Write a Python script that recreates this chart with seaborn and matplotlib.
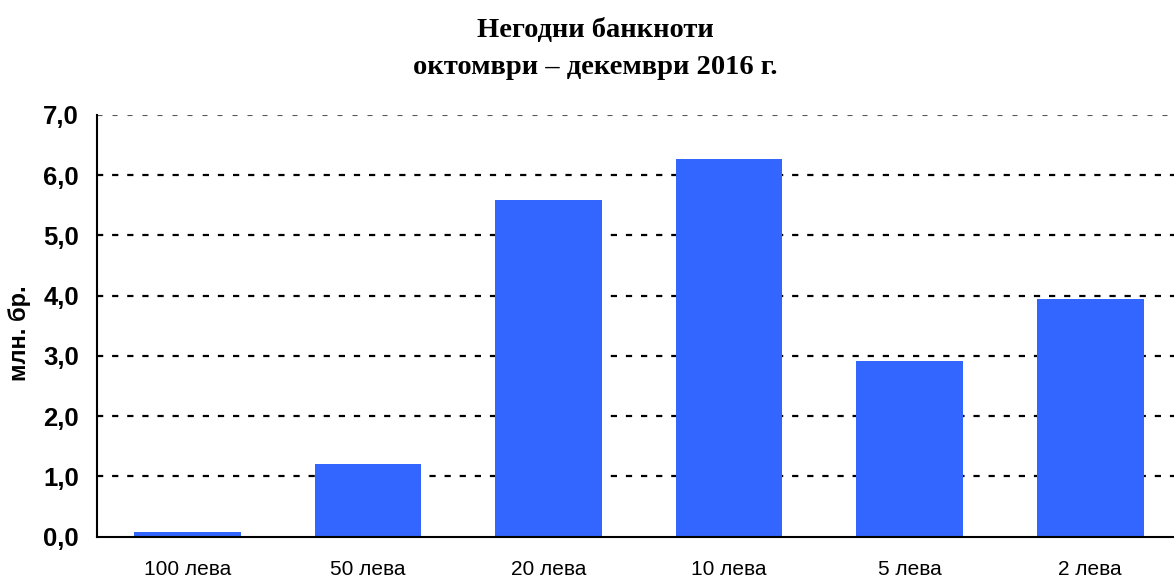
import pandas as pd
import matplotlib
matplotlib.use("Agg")
import matplotlib.pyplot as plt
import seaborn as sns
from matplotlib.ticker import FuncFormatter, FixedLocator

# banknote denominations and unfit notes, mln pieces
denominations = ["100 лева", "50 лева", "20 лева", "10 лева", "5 лева", "2 лева"]
unfit_notes = [0.08, 1.21, 5.59, 6.27, 2.92, 3.95]
title_lines = ["Негодни банкноти", "октомври – декември 2016 г."]
y_label = "млн. бр."

df = pd.DataFrame({"denomination": denominations, "count": unfit_notes})

sns.set_style("white")
plt.rcParams["font.family"] = ["Liberation Sans", "DejaVu Sans"]
plt.rcParams["text.color"] = "black"
plt.rcParams["xtick.color"] = "black"
plt.rcParams["ytick.color"] = "black"

fig = plt.figure(figsize=(11.74, 5.78), dpi=100)
ax = fig.add_axes([97 / 1174, 41.3 / 578, 1083.6 / 1174, 421.7 / 578])

sns.barplot(
    x="denomination",
    y="count",
    data=df,
    order=denominations,
    color="#3366FF",
    saturation=1,
    width=0.59,
    linewidth=0,
    ax=ax,
    zorder=3,
)

ax.set_xlim(-0.5, len(denominations) - 0.5)
ax.set_ylim(0, 7)

# gridlines
for v in range(1, 7):
    ax.axhline(v, color="black", linewidth=1.6, linestyle=(0, (2.8, 4.0)), zorder=1)
ax.axhline(7, color="#555555", linewidth=0.8, linestyle=(0, (4.5, 9)), zorder=1)

ax.set_yticks(range(0, 8))
ax.yaxis.set_major_formatter(FuncFormatter(lambda v, p: f"{v:.1f}".replace(".", ",")))
ax.tick_params(axis="y", direction="out", length=6, width=1.5, color="black",
               labelcolor="black", pad=7, labelsize=18.5)
for lab in ax.get_yticklabels():
    lab.set_fontweight("bold")

ax.tick_params(axis="x", which="major", length=0, pad=17, labelsize=15,
               labelcolor="black")
ax.xaxis.set_minor_locator(FixedLocator([i - 0.5 for i in range(len(denominations) + 1)]))
ax.tick_params(axis="x", which="minor", direction="out", length=6, width=1.5, color="black")

ax.set_xlabel("")
ax.set_ylabel("")

for s in ["top", "right"]:
    ax.spines[s].set_visible(False)
for s in ["left", "bottom"]:
    ax.spines[s].set_color("black")
    ax.spines[s].set_linewidth(1.5)
    ax.spines[s].set_zorder(4)

fig.text(595 / 1174, 1 - 30 / 578, title_lines[0], ha="center", va="center",
         family="Liberation Serif", fontweight="bold", fontsize=20.5, color="black")
fig.text(595 / 1174, 1 - 68 / 578, title_lines[1], ha="center", va="center",
         family="Liberation Serif", fontweight="bold", fontsize=20.5, color="black")
fig.text(20 / 1174, 1 - 333 / 578, y_label, rotation=90, ha="center", va="center",
         fontweight="bold", fontsize=17, color="black")

plt.savefig("out.png", dpi=100)
plt.close()
